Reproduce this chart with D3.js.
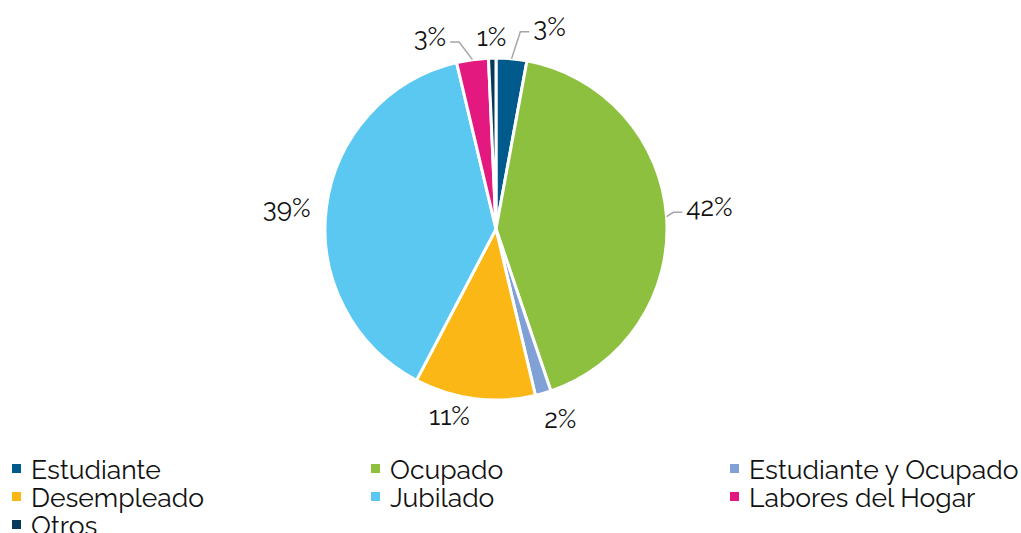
<!DOCTYPE html>
<html><head><meta charset="utf-8">
<script src="https://cdn.jsdelivr.net/npm/d3@7"></script>
<style>body{margin:0;background:#fff}svg{display:block}text{font-family:Raleway,"Open Sans",Lato,sans-serif}</style>
</head><body>
<svg id="c" width="1021" height="533"></svg>
<script>
const categories = ["Estudiante","Ocupado","Estudiante y Ocupado","Desempleado","Jubilado","Labores del Hogar","Otros"];
const values = [2.9, 41.9, 1.5, 11.4, 38.6, 3.0, 0.7];
const labels = ["3%","42%","2%","11%","39%","3%","1%"];
const colors = ["#005A8C","#8DC03F","#7FA1D6","#FBB716","#5BC8F2","#E4197F","#053A5A"];
const hasLeader = [true,true,false,false,false,true,false];
const labelNudge = [[35,1],[10,-7],[8,-6],[-21,-15],[-7,5],[-38,10],[0,12]];

const svg = d3.select("#c");
const cx = 496, cy = 229, R = 171;
const g = svg.append("g").attr("transform",`translate(${cx},${cy})`);
const pie = d3.pie().sort(null).value(d=>d)(values);
const arc = d3.arc().innerRadius(0).outerRadius(R);
g.selectAll("path.s").data(pie).join("path").attr("class","s")
  .attr("d",arc).attr("fill",(d,i)=>colors[i]).attr("stroke","#fff").attr("stroke-width",3).attr("stroke-linejoin","round");

const LR = 204;
pie.forEach((d,i)=>{
  const a = (d.startAngle+d.endAngle)/2;
  const lx = Math.sin(a)*LR + labelNudge[i][0];
  const ly = -Math.cos(a)*LR + labelNudge[i][1];
  const t = g.append("text").attr("x",lx).attr("y",ly).attr("text-anchor","middle")
    .attr("dominant-baseline","central").attr("font-size",26).attr("fill","#111").text(labels[i]);
  if(hasLeader[i]){
    const w = t.node().getBBox().width;
    const sx = Math.sin(a)*R, sy = -Math.cos(a)*R;
    const dir = lx > sx ? 1 : -1;
    const ex = lx - dir*(w/2+4), ey = ly + 5;
    const bx = ex - dir*9;
    g.append("polyline").attr("points",`${sx},${sy} ${bx},${ey} ${ex},${ey}`)
      .attr("fill","none").attr("stroke","#A6A6A6").attr("stroke-width",1.5);
  }
});

const legend = svg.append("g");
const colW = 359, rowH = 28, lx0 = 12, ly0 = 469;
categories.forEach((c,i)=>{
  const col = i%3, row = Math.floor(i/3);
  const x = lx0 + col*colW, y = ly0 + row*rowH;
  legend.append("rect").attr("x",x).attr("y",y-5).attr("width",9).attr("height",9).attr("fill",colors[i]);
  legend.append("text").attr("x",x+19).attr("y",y).attr("dominant-baseline","central")
    .attr("font-size",26.5).attr("fill","#111").text(c);
});
</script>
</body></html>
